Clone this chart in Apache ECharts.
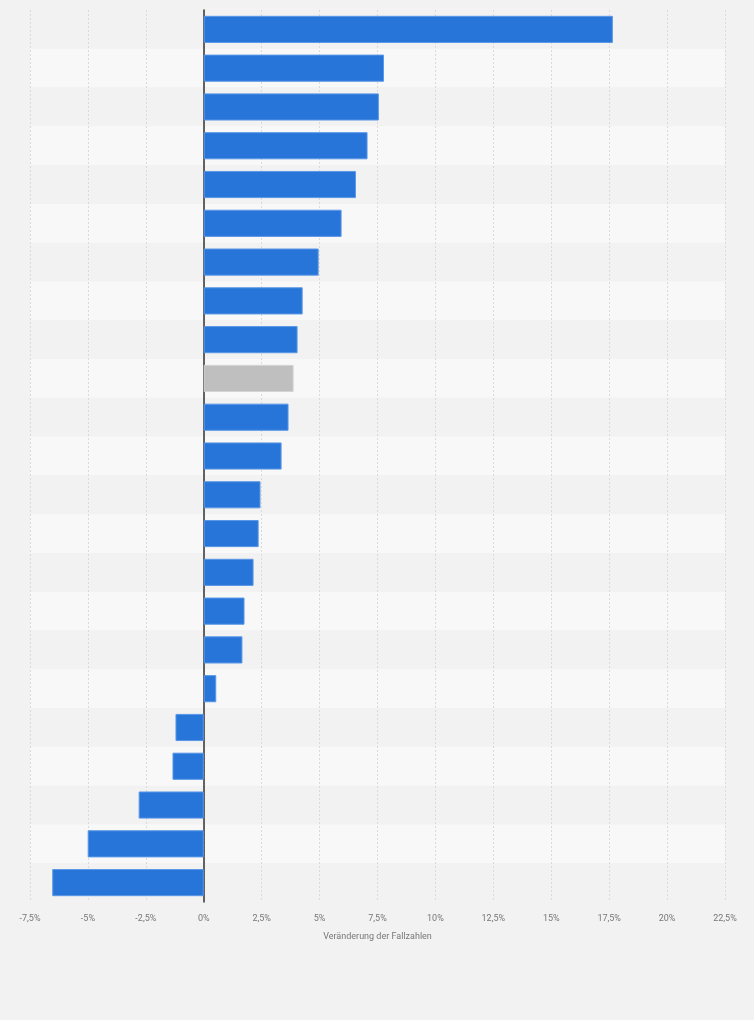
<!DOCTYPE html>
<html>
<head>
<meta charset="utf-8">
<script src="https://cdn.jsdelivr.net/npm/echarts@6/dist/echarts.min.js"></script>
<style>
  html, body { margin: 0; padding: 0; background: #f2f2f2; }
  #chart { width: 754px; height: 1020px; }
</style>
</head>
<body>
<div id="chart"></div>
<script>
// no category names are shown in the picture, rows only
const categories = Array.from({ length: 23 }, (_, i) => "R" + (i + 1));
const values = [
  17.66, 7.78, 7.56, 7.07, 6.57, 5.95, 4.96, 4.27, 4.05, 3.88, 3.66, 3.36,
  2.45, 2.37, 2.15, 1.76, 1.67, 0.54, -1.22, -1.35, -2.81, -5.01, -6.54
];
const highlightIndex = 9; // grey bar
const xMin = -7.5, xMax = 22.5, xStep = 2.5;

const fmt = v => String(v).replace(".", ",") + "%";

const chart = echarts.init(document.getElementById("chart"));
chart.setOption({
  backgroundColor: "#f2f2f2",
  animation: false,
  grid: { left: 30, right: 29, top: 10, bottom: 118 },
  xAxis: {
    type: "value",
    min: xMin,
    max: xMax,
    interval: xStep,
    name: "Veränderung der Fallzahlen",
    nameLocation: "middle",
    nameGap: 30,
    nameTextStyle: { color: "#777", fontSize: 9, fontFamily: "Roboto" },
    axisLine: { show: false },
    axisTick: { show: false },
    axisLabel: { color: "#777", fontSize: 9, fontFamily: "Roboto", margin: 12, formatter: fmt },
    splitLine: { show: true, lineStyle: { color: "#dadada", type: [2, 2], width: 1 } }
  },
  yAxis: {
    type: "category",
    data: categories,
    inverse: true,
    axisLine: { show: true, onZero: true, lineStyle: { color: "#333", width: 1.5 } },
    axisTick: { show: false },
    axisLabel: { show: false },
    splitArea: { show: true, areaStyle: { color: ["#f2f2f2", "#f8f8f8"] } }
  },
  series: [{
    type: "bar",
    barCategoryGap: "30%",
    data: values.map((v, i) => ({
      value: v,
      itemStyle: i === highlightIndex
        ? { color: "#bfbfbf", borderColor: "#d4d4d4", borderWidth: 1 }
        : { color: "#2775d9", borderColor: "#5a97e6", borderWidth: 1 }
    }))
  }]
});
</script>
</body>
</html>
